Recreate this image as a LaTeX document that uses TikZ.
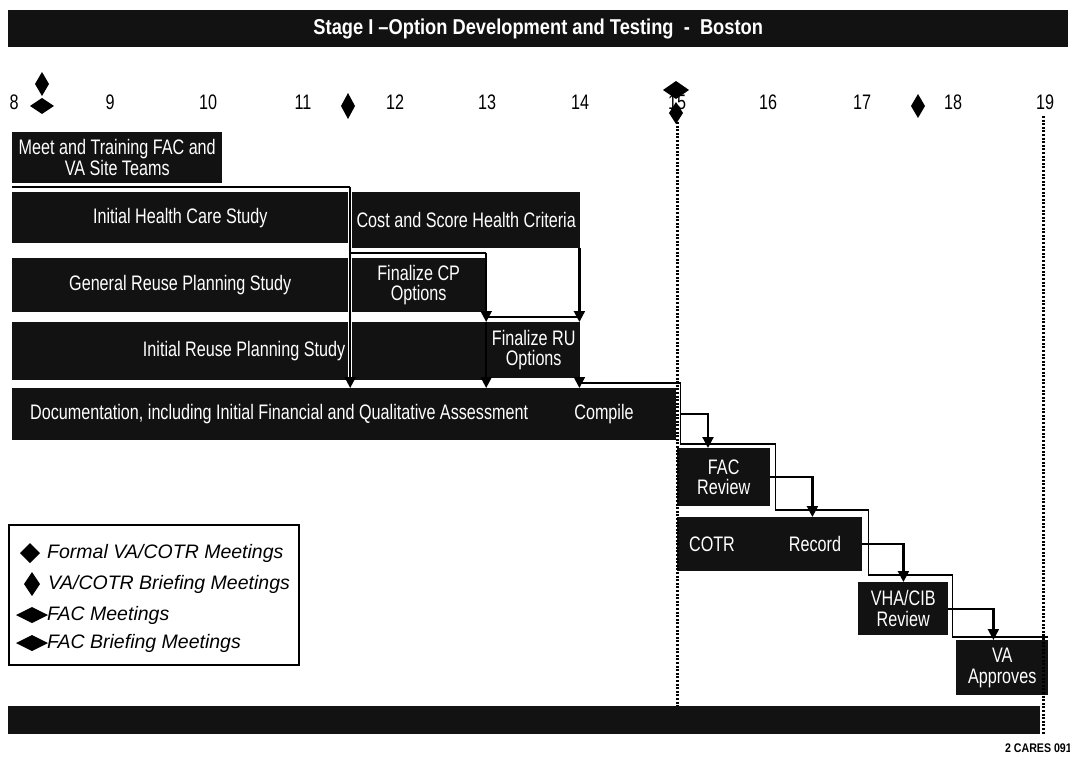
\documentclass[tikz,border=0pt]{standalone}
\usepackage{fontspec}
\setmainfont[FakeStretch=0.85]{Liberation Sans}
\newfontfamily\boxfamily[FakeStretch=0.77]{Liberation Sans}
\newfontfamily\legfont{Liberation Sans}
\usetikzlibrary{arrows.meta,calc}

% milestone diamond: centre x, centre y, half width, half height
\newcommand\msdiamond[4]{\fill (#1,#2) ++(0,-#4) -- ++(#3,#4) -- ++(-#3,#4) -- ++(-#3,-#4) -- cycle;}

\tikzset{
  boxfont/.style={font=\boxfamily\fontsize{21}{20.5}\selectfont},
  taskbox/.style={boxfont, fill=black!93, text=white, inner sep=0pt, anchor=north west, align=center},
  tasktext/.style={boxfont, text=white, inner sep=0pt},
  conn/.style={line width=2.2pt, -{Triangle[width=11pt,length=11pt]}},
  rail/.style={line width=1.6pt},
  milestone/.style={line width=3pt, dash pattern=on 2pt off 1.6pt},
  monthlbl/.style={boxfont, inner sep=0pt},
  legtext/.style={font=\legfont\itshape\fontsize{19.5}{21}\selectfont, inner sep=0pt, anchor=west},
}

\begin{document}
\begin{tikzpicture}[x=1pt,y=-1pt]
\useasboundingbox (0,0) rectangle (1070,759);

% title bar
\node[fill=black!93, text=white, anchor=north west, minimum width=1060pt, minimum height=37pt, inner sep=0pt,
      font=\bfseries\fontsize{21.5}{23}\selectfont] (title) at (8,10) {Stage I –Option Development and Testing\ \ -\ \ Boston};

% month scale
\foreach \m/\x in {8/14,9/110,10/208,11/303,12/395,13/487,14/580,15/677,16/768,17/862,18/953,19/1045}
  \node[monthlbl] (m\m) at (\x,102) {\m};

% milestones on the scale
\msdiamond{42}{84}{7}{12}
\msdiamond{42}{106}{12}{8}
\msdiamond{348}{106}{7}{13}
\msdiamond{676}{90}{13}{9}
\msdiamond{676}{113}{7}{11}
\msdiamond{918}{106}{7}{12}

% task bars
\node[taskbox, minimum width=210pt, minimum height=51pt] (meet) at (12,132) {Meet and Training FAC and\\VA Site Teams};
\node[taskbox, minimum width=336pt, minimum height=51pt] (ihcs) at (12,192) {Initial Health Care Study};
\node[taskbox, minimum width=228pt, minimum height=56pt] (cost) at (352,192) {Cost and Score Health Criteria};
\node[taskbox, minimum width=336pt, minimum height=54pt] (grps) at (12,258) {General Reuse Planning Study};
\node[taskbox, minimum width=133pt, minimum height=54pt] (fcp) at (352,258) {Finalize CP\\Options};
\node[taskbox, minimum width=336pt, minimum height=58pt] (irps) at (12,322) {};
\node[tasktext, anchor=east] (irpslbl) at ($(irps.east)+(-3pt,0)$) {Initial Reuse Planning Study};
\node[taskbox, minimum width=133pt, minimum height=58pt] (hold) at (352,322) {};
\node[taskbox, minimum width=93pt, minimum height=56pt] (fru) at (487,322) {Finalize RU\\Options};
\node[taskbox, minimum width=664pt, minimum height=52pt] (doc) at (12,388) {};
\node[tasktext, anchor=west] (doclbl) at ($(doc.west)+(18pt,0)$) {Documentation, including Initial Financial and Qualitative Assessment};
\node[tasktext] (compile) at ($(doc.west)+(592pt,0)$) {Compile};
\node[taskbox, minimum width=93pt, minimum height=58pt] (fac) at (677,448) {FAC\\Review};
\node[taskbox, minimum width=185pt, minimum height=54pt] (cotr) at (677,517) {};
\node[tasktext] (cotrlbl) at ($(cotr.west)+(35pt,0)$) {COTR};
\node[tasktext] (record) at ($(cotr.west)+(138pt,0)$) {Record};
\node[taskbox, minimum width=90pt, minimum height=53pt] (vha) at (858,582) {VHA/CIB\\Review};
\node[taskbox, minimum width=92pt, minimum height=55pt] (vaa) at (956,640) {VA\\Approves};
\node[fill=black!93, anchor=north west, minimum width=1032pt, minimum height=28pt, inner sep=0pt] (bottom) at (8,706) {};

% milestone guide lines
\coordinate (ms15) at (677,122);
\coordinate (ms19) at (1043,116);
\coordinate (ms19end) at (1043,735);
\draw[milestone] (ms15) -- (ms15 |- bottom.north);
\draw[milestone] (ms19) -- (ms19end);

% dependency connectors, upper block
\coordinate (g1) at ($(ihcs.east)!0.5!(cost.west)$);
\coordinate (g2) at ($(fcp.east)!0.5!(fru.west)$);
\coordinate (top1) at ($(ihcs.north west)+(0,5pt)$);
\coordinate (top2) at ($(fcp.north west)+(-2pt,5pt)$);
\coordinate (top3) at ($(fru.north west)+(-1pt,5pt)$);
\draw[rail] (top1) -- (top1 -| g1);
\draw[conn] (top1 -| g1) -- (g1 |- doc.north);
\draw[rail] (top2) -- (top2 -| g2);
\draw[conn] (top2 -| g2) -- (g2 |- fru.north);
\draw[conn] (g2 |- fru.north) -- (g2 |- doc.north);
\draw[rail] (top3) -- (top3 -| fru.east);
\draw[conn] ([xshift=-1pt]cost.south east) -- ([xshift=-1pt]cost.south east |- fru.north);
\draw[conn] ([xshift=-1pt]fru.south east) -- ([xshift=-1pt]fru.south east |- doc.north);

% staircase outline of the review sequence
\draw[rail] ($(fru.east |- doc.north)+(0,5pt)$)
  -| ($(doc.east |- fac.north)+(4pt,4pt)$)
  -| ($(fac.east |- cotr.north)+(5pt,7pt)$)
  -| ($(cotr.east |- vha.north)+(6pt,7pt)$)
  -| ($(vha.east |- vaa.north)+(4pt,3pt)$)
  -- ($(vaa.north east)+(0,3pt)$);

% step connectors, review sequence
\draw[conn] ([xshift=4pt]doc.east) -| ($(fac.north west)+(31pt,0)$);
\draw[conn] (fac.east) -| ($(fac.east |- cotr.north)+(42pt,0)$);
\draw[conn] (cotr.east) -| ($(cotr.east |- vha.north)+(41pt,0)$);
\draw[conn] (vha.east) -| ($(vha.east |- vaa.north)+(45pt,0)$);

% legend
\node[draw, line width=1.5pt, anchor=north west, minimum width=290pt, minimum height=140pt, inner sep=0pt] (legend) at (8,524) {};
\msdiamond{30}{553}{10}{10}
\node[legtext] (leg1) at (47,553) {Formal VA/COTR Meetings};
\msdiamond{32}{584}{8}{12}
\node[legtext] (leg2) at (48,584) {VA/COTR Briefing Meetings};
\msdiamond{32}{615}{16}{8}
\node[legtext] (leg3) at (47,615) {FAC Meetings};
\msdiamond{32}{643}{16}{8}
\node[legtext] (leg4) at (47,643) {FAC Briefing Meetings};

% document reference
\node[anchor=east, inner sep=0pt, font=\bfseries\fontsize{12.5}{13}\selectfont] (docref) at (1072,748) {2 CARES 091};
\end{tikzpicture}
\end{document}
